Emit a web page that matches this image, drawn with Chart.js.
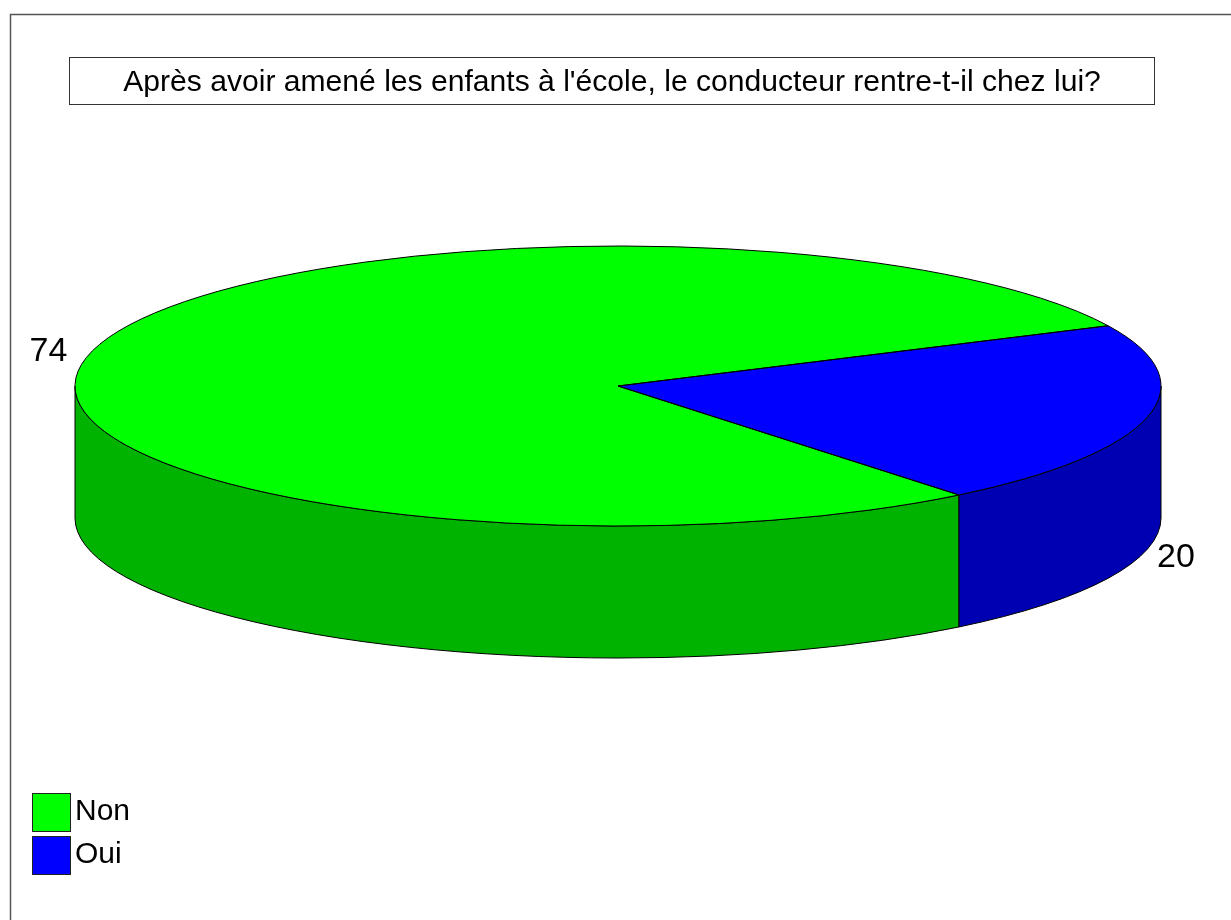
<!DOCTYPE html>
<html lang="fr">
<head>
<meta charset="utf-8">
<title>Pie chart</title>
<style>html,body{margin:0;padding:0;background:#fff;overflow:hidden}canvas{display:block}</style>
<script src="https://cdn.jsdelivr.net/npm/chart.js@4/dist/chart.umd.min.js"></script>
</head>
<body>
<canvas id="c" width="1231" height="920"></canvas>
<script>
const titleText = "Après avoir amené les enfants à l'école, le conducteur rentre-t-il chez lui?";
const categories = ["Non", "Oui"];
const seriesValues = [74, 20];
const topColors = ["#00ff00", "#0000ff"];
const wallColors = ["#00b300", "#0000b3"];

const RX = 543, RY = 140, DEPTH = 132;
const FONT = "Liberation Sans, Arial, sans-serif";
const labelSpots = [{x: 48.5, y: 361}, {x: 1176, y: 567}];

function segs(a0, a1) {
  const out = [], T = Math.PI * 2;
  for (const k of [-1, 0, 1]) {
    const s = Math.max(a0, k * T), e = Math.min(a1, k * T + Math.PI);
    if (e > s) out.push([s - k * T, e - k * T]);
  }
  return out;
}
function arcs(chart) { return chart.getDatasetMeta(0).data; }

const pie3d = {
  id: 'pie3d',
  beforeDatasetsDraw(chart) {
    const ctx = chart.ctx;
    const list = arcs(chart);
    const cx = list[0].x, cy = list[0].y;
    // side walls
    list.forEach((a, i) => {
      segs(a.startAngle, a.endAngle).forEach(([s, e]) => {
        ctx.beginPath();
        ctx.ellipse(cx, cy, RX, RY, 0, s, e);
        ctx.ellipse(cx, cy + DEPTH, RX, RY, 0, e, s, true);
        ctx.closePath();
        ctx.fillStyle = wallColors[i];
        ctx.fill();
        ctx.strokeStyle = '#000';
        ctx.lineWidth = 1;
        ctx.stroke();
      });
    });
    // flatten the top face
    ctx.save();
    ctx.translate(cx, cy);
    ctx.scale(RX / list[0].outerRadius, RY / list[0].outerRadius);
    ctx.translate(-cx, -cy);
  },
  afterDatasetsDraw(chart) {
    const ctx = chart.ctx;
    ctx.restore();
    const list = arcs(chart);
    const cx = list[0].x, cy = list[0].y;
    ctx.strokeStyle = '#000';
    ctx.lineWidth = 1;
    list.forEach(a => {
      ctx.beginPath();
      ctx.moveTo(cx, cy);
      ctx.ellipse(cx, cy, RX, RY, 0, a.startAngle, a.endAngle);
      ctx.closePath();
      ctx.stroke();
    });
    // value labels
    ctx.fillStyle = '#000';
    ctx.font = '34px ' + FONT;
    ctx.textAlign = 'center';
    ctx.textBaseline = 'alphabetic';
    seriesValues.forEach((v, i) => ctx.fillText(String(v), labelSpots[i].x, labelSpots[i].y));
  },
  afterDraw(chart) {
    const ctx = chart.ctx;
    ctx.save();
    // outer frame
    ctx.strokeStyle = '#555';
    ctx.lineWidth = 1.5;
    ctx.beginPath();
    ctx.moveTo(10.5, 920);
    ctx.lineTo(10.5, 14.5);
    ctx.lineTo(1231, 14.5);
    ctx.stroke();
    // title box
    ctx.lineWidth = 1;
    ctx.strokeStyle = '#333';
    ctx.strokeRect(69.5, 57.5, 1085, 47);
    ctx.fillStyle = '#000';
    ctx.font = '30.1px ' + FONT;
    ctx.textAlign = 'center';
    ctx.textBaseline = 'alphabetic';
    ctx.fillText(titleText, 612, 91);
    // legend
    ctx.textAlign = 'left';
    categories.forEach((c, i) => {
      const y = 793 + i * 43;
      ctx.fillStyle = topColors[i];
      ctx.fillRect(32.5, y + 0.5, 38, 38);
      ctx.strokeStyle = '#222';
      ctx.strokeRect(32.5, y + 0.5, 38, 38);
      ctx.fillStyle = '#000';
      ctx.font = '30px ' + FONT;
      ctx.fillText(c, 75, y + 27);
    });
    ctx.restore();
  }
};

new Chart(document.getElementById('c'), {
  type: 'pie',
  data: {
    labels: categories,
    datasets: [{
      data: seriesValues,
      backgroundColor: topColors,
      borderWidth: 0,
      clip: false
    }]
  },
  options: {
    responsive: false,
    animation: false,
    rotation: 141.1,
    layout: { padding: { left: 418, right: 413, top: 186, bottom: 334 } },
    plugins: { legend: { display: false }, title: { display: false }, tooltip: { enabled: false } }
  },
  plugins: [pie3d]
});
</script>
</body>
</html>
